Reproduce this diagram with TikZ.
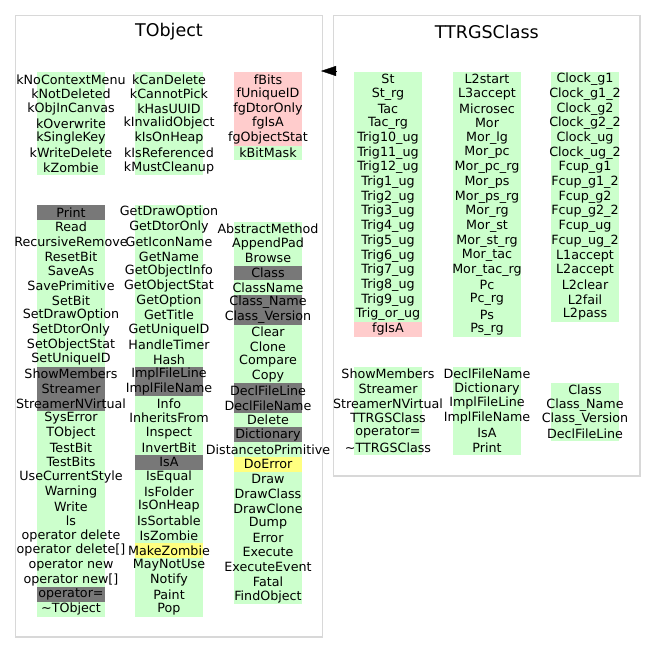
\documentclass[tikz,border=0pt]{standalone}
\usepackage{fontspec}
\setmainfont{DejaVu Sans}
\usepackage{xcolor}
\usepackage{tikz}
\usetikzlibrary{positioning,arrows.meta}
\definecolor{G}{HTML}{CCFFCC}
\definecolor{P}{HTML}{FFCCCC}
\definecolor{D}{HTML}{787878}
\definecolor{Y}{HTML}{FFFF80}
\definecolor{framegray}{HTML}{D8D8D8}

\begin{document}
\begin{tikzpicture}[x=1pt, y=-1pt,
    frame/.style={draw=framegray, line width=1.8pt, inner sep=0pt},
    title/.style={font=\fontsize{17.5}{20}\selectfont},
    row/.style={inner sep=0pt, minimum height=14.7pt, font=\fontsize{12.7}{14.7}\selectfont},
    inherit/.style={-{Triangle[length=15pt, width=10pt]}, black}]
    \useasboundingbox (0,0) rectangle (656,653);
    % Rahmen und Titel
    \node[frame, minimum width=307pt, minimum height=621.5pt] (tobj) at (169,326.25) {};
    \node[frame, minimum width=306.5pt, minimum height=460.5pt] (trgs) at (486.75,245.75) {};
    \node[title] (tobjtitle) at (169,32) {TObject};
    \node[title] (trgstitle) at (486.75,32) {TTRGSClass};
    \coordinate (arrbase) at (336,71);
    \coordinate (arrtip) at (321,71);
    \draw[inherit] (arrbase) -- (arrtip);
    % TObject: Konstanten und Datenmember
    \foreach \t [count=\i from 0] in {kNoContextMenu, kNotDeleted, kObjInCanvas, kOverwrite, kSingleKey, kWriteDelete, kZombie} {
        \node[row, fill=G] (toA\i) at (71,79.35+14.7*\i) {\makebox[68pt]{\t}};
    }
    \foreach \t [count=\i from 0] in {kCanDelete, kCannotPick, kHasUUID, kInvalidObject, kIsOnHeap, kIsReferenced, kMustCleanup} {
        \node[row, fill=G] (toB\i) at (169,79.35+14.7*\i) {\makebox[68pt]{\t}};
    }
    \foreach \t/\c [count=\i from 0] in {fBits/P, fUniqueID/P, fgDtorOnly/P, fgIsA/P, fgObjectStat/P, kBitMask/G} {
        \node[row, fill=\c] (toC\i) at (268,79.35+14.7*\i) {\makebox[68pt]{\t}};
    }
    % TObject: Methoden
    \foreach \t/\c [count=\i from 0] in {Print/D, Read/G, RecursiveRemove/G, ResetBit/G, SaveAs/G, SavePrimitive/G, SetBit/G, SetDrawOption/G, SetDtorOnly/G, SetObjectStat/G, SetUniqueID/G, ShowMembers/D, Streamer/D, StreamerNVirtual/D, SysError/G, TObject/G, TestBit/G, TestBits/G, UseCurrentStyle/G, Warning/G, Write/G, ls/G, operator delete/G, operator delete[]/G, operator new/G, operator new[]/G, operator=/D, {\textasciitilde}TObject/G} {
        \node[row, fill=\c] (toM\i) at (71,212.35+14.7*\i) {\makebox[68pt]{\t}};
    }
    \foreach \t/\c [count=\i from 0] in {GetDrawOption/G, GetDtorOnly/G, GetIconName/G, GetName/G, GetObjectInfo/G, GetObjectStat/G, GetOption/G, GetTitle/G, GetUniqueID/G, HandleTimer/G, Hash/G, ImplFileLine/D, ImplFileName/D, Info/G, InheritsFrom/G, Inspect/G, InvertBit/G, IsA/D, IsEqual/G, IsFolder/G, IsOnHeap/G, IsSortable/G, IsZombie/G, MakeZombie/Y, MayNotUse/G, Notify/G, Paint/G, Pop/G} {
        \node[row, fill=\c] (toN\i) at (169,212.35+14.7*\i) {\makebox[68pt]{\t}};
    }
    \foreach \t/\c [count=\i from 0] in {AbstractMethod/G, AppendPad/G, Browse/G, Class/D, ClassName/G, Class\_Name/D, Class\_Version/D, Clear/G, Clone/G, Compare/G, Copy/G, DeclFileLine/D, DeclFileName/D, Delete/G, Dictionary/D, DistancetoPrimitive/G, DoError/Y, Draw/G, DrawClass/G, DrawClone/G, Dump/G, Error/G, Execute/G, ExecuteEvent/G, Fatal/G, FindObject/G} {
        \node[row, fill=\c] (toO\i) at (268,229+14.7*\i) {\makebox[68pt]{\t}};
    }
    % TTRGSClass: Datenmember
    \foreach \t/\c [count=\i from 0] in {St/G, St\_rg/G, Tac/G, Tac\_rg/G, Trig10\_ug/G, Trig11\_ug/G, Trig12\_ug/G, Trig1\_ug/G, Trig2\_ug/G, Trig3\_ug/G, Trig4\_ug/G, Trig5\_ug/G, Trig6\_ug/G, Trig7\_ug/G, Trig8\_ug/G, Trig9\_ug/G, Trig\_or\_ug/G, fgIsA/P} {
        \node[row, fill=\c] (trA\i) at (388,79.35+14.7*\i) {\makebox[68pt]{\t}};
    }
    \foreach \t [count=\i from 0] in {L2start, L3accept, Microsec, Mor, Mor\_lg, Mor\_pc, Mor\_pc\_rg, Mor\_ps, Mor\_ps\_rg, Mor\_rg, Mor\_st, Mor\_st\_rg, Mor\_tac, Mor\_tac\_rg, Pc, Pc\_rg, Ps, Ps\_rg} {
        \node[row, fill=G] (trB\i) at (487,79.35+14.7*\i) {\makebox[68pt]{\t}};
    }
    \foreach \t [count=\i from 0] in {Clock\_g1, Clock\_g1\_2, Clock\_g2, Clock\_g2\_2, Clock\_ug, Clock\_ug\_2, Fcup\_g1, Fcup\_g1\_2, Fcup\_g2, Fcup\_g2\_2, Fcup\_ug, Fcup\_ug\_2, L1accept, L2accept, L2clear, L2fail, L2pass} {
        \node[row, fill=G] (trC\i) at (585,79.35+14.7*\i) {\makebox[68pt]{\t}};
    }
    % TTRGSClass: Methoden
    \foreach \t [count=\i from 0] in {ShowMembers, Streamer, StreamerNVirtual, TTRGSClass, operator=, {\textasciitilde}TTRGSClass} {
        \node[row, fill=G] (trM\i) at (388,374+14.7*\i) {\makebox[68pt]{\t}};
    }
    \foreach \t [count=\i from 0] in {DeclFileName, Dictionary, ImplFileLine, ImplFileName, IsA, Print} {
        \node[row, fill=G] (trN\i) at (487,374+14.7*\i) {\makebox[68pt]{\t}};
    }
    \foreach \t [count=\i from 0] in {Class, Class\_Name, Class\_Version, DeclFileLine} {
        \node[row, fill=G] (trO\i) at (585,390+14.7*\i) {\makebox[68pt]{\t}};
    }
\end{tikzpicture}
\end{document}
